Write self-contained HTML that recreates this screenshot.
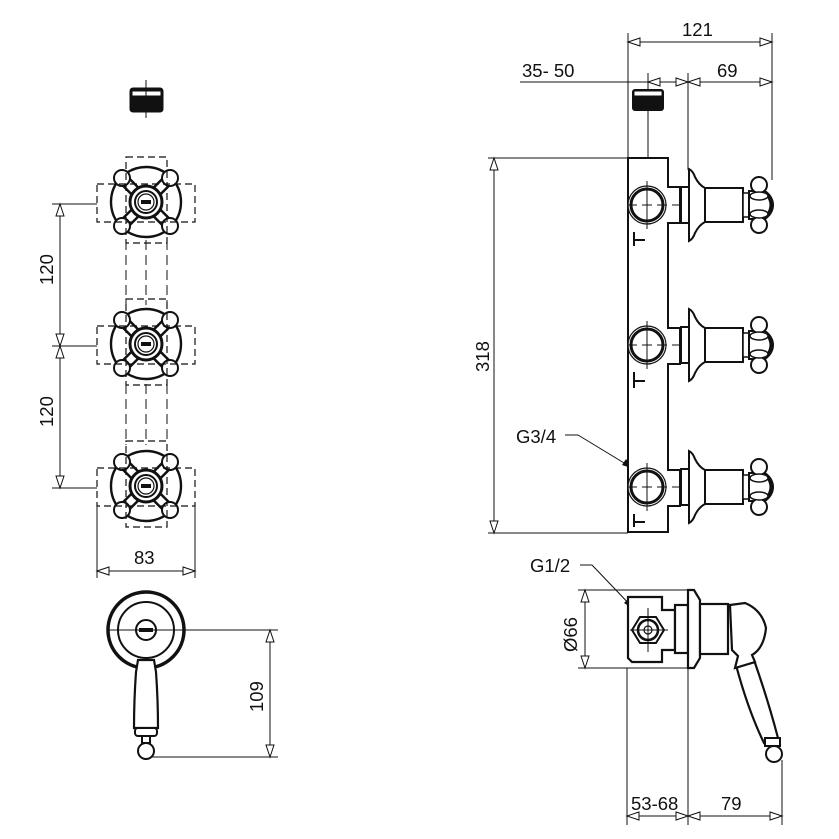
<!DOCTYPE html>
<html><head><meta charset="utf-8"><style>
html,body{margin:0;padding:0;background:#fff}
svg{display:block}
text{font-family:"Liberation Sans",sans-serif;font-size:18.5px;fill:#111}
</style></head><body>
<svg width="839" height="839" viewBox="0 0 839 839" xmlns="http://www.w3.org/2000/svg">
<defs>
<g id="ah"><polygon points="0,0 -12,-4 -12,4" fill="#fff" stroke="#111" stroke-width="1"/></g>
<g id="cross">
  <circle r="35" fill="none" stroke="#111" stroke-width="2.4"/>
  <line x1="-22" y1="-22" x2="22" y2="22" stroke="#111" stroke-width="12"/>
  <line x1="22" y1="-22" x2="-22" y2="22" stroke="#111" stroke-width="12"/>
  <line x1="-22" y1="-22" x2="22" y2="22" stroke="#fff" stroke-width="7"/>
  <line x1="22" y1="-22" x2="-22" y2="22" stroke="#fff" stroke-width="7"/>
  <circle cx="-24" cy="-24" r="8" fill="#fff" stroke="#111" stroke-width="2"/>
  <circle cx="24" cy="-24" r="8" fill="#fff" stroke="#111" stroke-width="2"/>
  <circle cx="-24" cy="24" r="8" fill="#fff" stroke="#111" stroke-width="2"/>
  <circle cx="24" cy="24" r="8" fill="#fff" stroke="#111" stroke-width="2"/>
  <circle r="16" fill="#fff" stroke="#111" stroke-width="3"/>
  <circle r="11" fill="#fff" stroke="#111" stroke-width="2"/>
  <circle r="8" fill="#fff" stroke="#111" stroke-width="1.2"/>
  <rect x="-5" y="-2" width="10" height="4" fill="#111"/>
  <g fill="none" stroke="#111" stroke-width="1.2" stroke-dasharray="7,4">
    <rect x="-49" y="-18" width="98" height="38"/>
    <rect x="-20" y="-45" width="41" height="86"/>
  </g>
</g>
<g id="valve" fill="#fff" stroke="#111">
  <circle cx="0" cy="0" r="19" stroke-width="1.2"/>
  <circle cx="0" cy="0" r="16" stroke-width="3"/>
  <line x1="-20" y1="0" x2="125" y2="0" stroke-width="1" stroke-dasharray="10,5"/>
  <line x1="0" y1="-24" x2="0" y2="24" stroke-width="1"/>
  <rect x="34" y="-18" width="10" height="36" stroke-width="2"/>
  <path d="M42,-36 Q46,-34 48,-28 Q52,-20 58,-17 L58,17 Q52,20 48,28 Q46,34 42,36 Z" stroke-width="2"/>
  <rect x="58" y="-17" width="38" height="34" stroke-width="2"/>
  <rect x="96" y="-12" width="6" height="24" stroke-width="1.5"/>
  <path d="M102,-14 L118,-14 Q126,-8 126,0 Q126,8 118,14 L102,14 Z" stroke-width="2"/>
  <path d="M121,-10 Q128,0 121,10" stroke-width="4" fill="none"/>
  <circle cx="112" cy="-20" r="8" stroke-width="2"/>
  <circle cx="112" cy="20" r="8" stroke-width="2"/>
  <ellipse cx="112" cy="-9" rx="9" ry="4" stroke-width="1.5"/>
  <ellipse cx="112" cy="9" rx="9" ry="4" stroke-width="1.5"/>
</g>
</defs>

<g stroke="#111" fill="none">
<rect x="130" y="88" width="33" height="24" rx="3" fill="#111"/>
<rect x="132" y="91" width="29" height="5" fill="#fff" stroke-width="1"/>
<line x1="146" y1="80" x2="146" y2="118" stroke-width="1"/>
<line x1="146" y1="240" x2="146" y2="305" stroke-width="1" stroke-dasharray="10,5"/>
<line x1="146" y1="384" x2="146" y2="445" stroke-width="1" stroke-dasharray="10,5"/>
<line x1="126" y1="240" x2="126" y2="305" stroke-width="1" stroke-dasharray="10,5"/>
<line x1="167" y1="240" x2="167" y2="305" stroke-width="1" stroke-dasharray="10,5"/>
<line x1="126" y1="384" x2="126" y2="445" stroke-width="1" stroke-dasharray="10,5"/>
<line x1="167" y1="384" x2="167" y2="445" stroke-width="1" stroke-dasharray="10,5"/>
</g>
<use href="#cross" x="146" y="202"/>
<use href="#cross" x="146" y="344"/>
<use href="#cross" x="146" y="486"/>

<g stroke="#111" stroke-width="1" fill="none">
<line x1="52" y1="204" x2="97" y2="204"/>
<line x1="52" y1="346" x2="97" y2="346"/>
<line x1="52" y1="488" x2="97" y2="488"/>
<line x1="60" y1="204" x2="60" y2="488"/>
<line x1="97" y1="505" x2="97" y2="578"/>
<line x1="195" y1="505" x2="195" y2="578"/>
<line x1="97" y1="571" x2="195" y2="571"/>
<line x1="108" y1="630" x2="278" y2="630"/>
<line x1="146" y1="595" x2="146" y2="672"/>
<line x1="150" y1="757" x2="278" y2="757"/>
<line x1="270" y1="630" x2="270" y2="757"/>
</g>
<use href="#ah" transform="translate(60,204) rotate(-90)"/>
<use href="#ah" transform="translate(60,346) rotate(90)"/>
<use href="#ah" transform="translate(60,346) rotate(-90)"/>
<use href="#ah" transform="translate(60,488) rotate(90)"/>
<use href="#ah" transform="translate(97,571) rotate(180)"/>
<use href="#ah" transform="translate(195,571)"/>
<use href="#ah" transform="translate(270,630) rotate(-90)"/>
<use href="#ah" transform="translate(270,757) rotate(90)"/>
<text x="0" y="0" transform="translate(53,285) rotate(-90)">120</text>
<text x="0" y="0" transform="translate(53,427) rotate(-90)">120</text>
<text x="134" y="564">83</text>
<text x="0" y="0" transform="translate(263,712) rotate(-90)">109</text>

<g stroke="#111" fill="#fff">
<circle cx="146" cy="630" r="38" stroke-width="3.5"/>
<circle cx="146" cy="630" r="28" stroke-width="2"/>
<circle cx="146" cy="630" r="10" stroke-width="2"/>
<rect x="139" y="628" width="14" height="4" fill="#111" stroke="none"/>
<path d="M138,660 L154,660 L156,672 Q158,700 158,728 L134,728 Q134,700 136,672 Z" stroke-width="2.2"/>
<rect x="135" y="728" width="22" height="8" rx="3" stroke-width="2"/>
<rect x="142" y="736" width="8" height="7" stroke-width="2"/>
<circle cx="146" cy="751" r="8" stroke-width="2"/>
</g>
<g stroke="#111" stroke-width="1"><line x1="108" y1="630" x2="186" y2="630"/></g>

<g stroke="#111" stroke-width="1" fill="none">
<line x1="628" y1="33" x2="628" y2="160"/>
<line x1="772" y1="33" x2="772" y2="180"/>
<line x1="688" y1="73" x2="688" y2="170"/>
<line x1="648" y1="73" x2="648" y2="210"/>
<line x1="628" y1="42" x2="772" y2="42"/>
<line x1="520" y1="82" x2="772" y2="82"/>
<line x1="488" y1="158" x2="628" y2="158"/>
<line x1="488" y1="533" x2="628" y2="533"/>
<line x1="494" y1="158" x2="494" y2="533"/>
<line x1="565" y1="435" x2="578" y2="435"/>
<line x1="578" y1="435" x2="634" y2="469"/>
<line x1="580" y1="565" x2="592" y2="565"/>
<line x1="592" y1="565" x2="635" y2="610"/>
<line x1="578" y1="590" x2="690" y2="590"/>
<line x1="578" y1="668" x2="690" y2="668"/>
<line x1="585" y1="590" x2="585" y2="668"/>
<line x1="627" y1="668" x2="627" y2="825"/>
<line x1="688" y1="668" x2="688" y2="825"/>
<line x1="782" y1="760" x2="782" y2="825"/>
<line x1="627" y1="816" x2="782" y2="816"/>
</g>
<use href="#ah" transform="translate(628,42) rotate(180)"/>
<use href="#ah" transform="translate(772,42)"/>
<use href="#ah" transform="translate(648,82) rotate(180)"/>
<use href="#ah" transform="translate(688,82)"/>
<use href="#ah" transform="translate(688,82) rotate(180)"/>
<use href="#ah" transform="translate(772,82)"/>
<use href="#ah" transform="translate(494,158) rotate(-90)"/>
<use href="#ah" transform="translate(494,533) rotate(90)"/>
<use href="#ah" transform="translate(585,590) rotate(-90)"/>
<use href="#ah" transform="translate(585,668) rotate(90)"/>
<use href="#ah" transform="translate(627,816) rotate(180)"/>
<use href="#ah" transform="translate(688,816)"/>
<use href="#ah" transform="translate(688,816) rotate(180)"/>
<use href="#ah" transform="translate(782,816)"/>
<polygon points="634,469 622,465 626,459" fill="#111"/>
<polygon points="635,610 624,603 629,598" fill="#111"/>
<text x="682" y="36">121</text>
<text x="522" y="77">35- 50</text>
<text x="717" y="77">69</text>
<text x="0" y="0" transform="translate(489,372) rotate(-90)">318</text>
<text x="516" y="443">G3/4</text>
<text x="530" y="572">G1/2</text>
<text x="0" y="0" transform="translate(577,652) rotate(-90)">Ø66</text>
<text x="631" y="810">53-68</text>
<text x="721" y="810">79</text>

<rect x="632" y="89" width="32" height="22" rx="3" fill="#111"/>
<rect x="634" y="91" width="28" height="5" fill="#fff" stroke="#111" stroke-width="1"/>

<path d="M628,158 L668,158 L668,187 L680,187 L680,223 L668,223 L668,328 L680,328 L680,364 L668,364 L668,470 L680,470 L680,506 L668,506 L668,532 L628,532 Z" fill="#fff" stroke="#111" stroke-width="2"/>
<g stroke="#111" stroke-width="2" fill="none">
<path d="M634,232 L634,246 M634,240 L645,240"/>
<path d="M634,372 L634,388 M634,381 L645,381"/>
<path d="M634,514 L634,527 M634,522 L645,522"/>
</g>
<use href="#valve" x="647" y="205"/>
<use href="#valve" x="647" y="345"/>
<use href="#valve" x="647" y="487"/>

<g stroke="#111" fill="#fff">
<path d="M628,597 L662,597 L662,610 L675,610 L675,650 L662,650 L662,662 L632,662 L628,658 Z" stroke-width="2.2"/>
<polygon points="632,630 640,617 656,617 664,630 656,643 640,643" stroke-width="2"/>
<circle cx="648" cy="630" r="10" stroke-width="2.5"/>
<circle cx="648" cy="630" r="4" stroke-width="1.2"/>
<line x1="630" y1="630" x2="668" y2="630" stroke-width="1"/>
<line x1="648" y1="608" x2="648" y2="652" stroke-width="1"/>
<rect x="675" y="605" width="13" height="48" stroke-width="2.2"/>
<path d="M688,590 L694,590 L700,600 L700,658 L694,668 L688,668 Z" stroke-width="2.2"/>
<rect x="700" y="604" width="28" height="50" stroke-width="2.2"/>
<path d="M736,665 L754,660 Q768,700 778,738 L764,743 Q748,710 736,665 Z" stroke-width="2.2"/>
<path d="M730,605 L745,603 Q762,610 766,628 Q764,648 752,655 L755,662 L735,668 L738,656 L732,650 Z" stroke-width="2.2"/>
<rect x="765" y="738" width="15" height="8" stroke-width="2"/>
<circle cx="774" cy="754" r="8" stroke-width="2"/>
</g>
</svg>
</body></html>
